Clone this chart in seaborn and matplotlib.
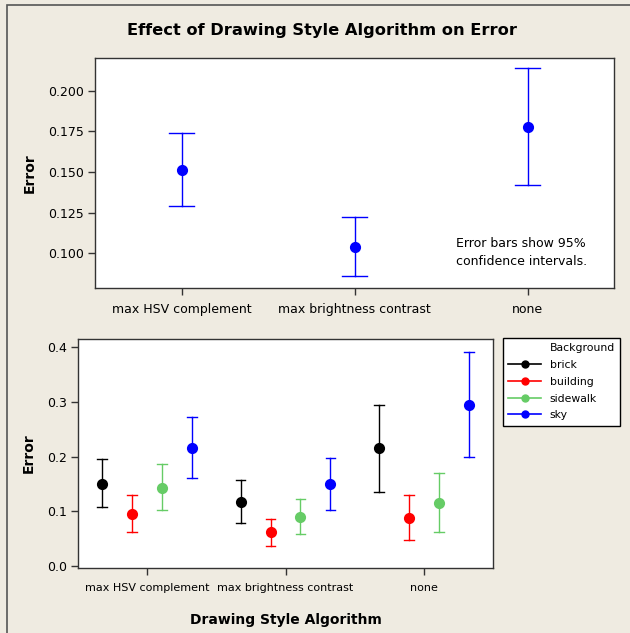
import matplotlib
matplotlib.use("Agg")
import matplotlib.pyplot as plt
from matplotlib.lines import Line2D
from matplotlib.patches import Rectangle
import seaborn as sns
import pandas as pd

# overall effect (mean, 95% CI)
algorithms = ["max HSV complement", "max brightness contrast", "none"]
overall_mean = [0.151, 0.104, 0.178]
overall_lo = [0.129, 0.086, 0.142]
overall_hi = [0.174, 0.122, 0.214]

# by background
backgrounds = ["brick", "building", "sidewalk", "sky"]
bg_colors = ["#000000", "#ff0000", "#66cc66", "#0000ff"]
# rows: algorithm, cols: background
bg_mean = [[0.150, 0.095, 0.143, 0.216],
           [0.116, 0.061, 0.090, 0.149],
           [0.215, 0.087, 0.115, 0.294]]
bg_lo = [[0.107, 0.062, 0.102, 0.161],
         [0.079, 0.037, 0.059, 0.102],
         [0.135, 0.047, 0.061, 0.200]]
bg_hi = [[0.196, 0.130, 0.186, 0.272],
         [0.157, 0.086, 0.123, 0.197],
         [0.295, 0.130, 0.169, 0.391]]

# each group as (lo, mean, hi): median = mean, min-max = CI
top_rows = []
for i, a in enumerate(algorithms):
    for v in (overall_lo[i], overall_mean[i], overall_hi[i]):
        top_rows.append({"alg": a, "err": v})
top_df = pd.DataFrame(top_rows)

bot_rows = []
for i, a in enumerate(algorithms):
    for j, b in enumerate(backgrounds):
        for v in (bg_lo[i][j], bg_mean[i][j], bg_hi[i][j]):
            bot_rows.append({"alg": a, "bg": b, "err": v})
bot_df = pd.DataFrame(bot_rows)

bg = "#efebe1"
plt.rcParams["font.family"] = ["DejaVu Sans"]
fig = plt.figure(figsize=(6.3, 6.33), dpi=100, facecolor=bg)
fig.patches.append(Rectangle((7 / 630, -0.1), 2, 1.1 - 5 / 633, transform=fig.transFigure,
                             fill=False, edgecolor="#555555", linewidth=1.2))

# ---- top panel
ax1 = fig.add_axes([95 / 630, 1 - 288 / 633, 519 / 630, 230 / 633])
sns.pointplot(data=top_df, x="alg", y="err", estimator="median", errorbar=("pi", 100),
              color="#0000ff", linestyle="none", markersize=6, capsize=0.15,
              err_kws={"linewidth": 1.0}, ax=ax1)
ax1.set_xlim(-0.5, 2.5)
ax1.set_ylim(0.0785, 0.2203)
ax1.set_yticks([0.100, 0.125, 0.150, 0.175, 0.200])
ax1.set_yticklabels(["0.100", "0.125", "0.150", "0.175", "0.200"])
ax1.set_xlabel("")
ax1.set_ylabel("Error", fontsize=10, fontweight="bold", labelpad=8)
ax1.text(0.695, 0.155, "Error bars show 95%\nconfidence intervals.", transform=ax1.transAxes,
         fontsize=9, ha="left", va="center", linespacing=1.45)

# ---- bottom panel
ax2 = fig.add_axes([78 / 630, 1 - 568 / 633, 415 / 630, 229 / 633])
sns.pointplot(data=bot_df, x="alg", y="err", hue="bg", hue_order=backgrounds,
              palette=bg_colors, estimator="median", errorbar=("pi", 100),
              dodge=0.65, linestyle="none", markersize=6, capsize=0.07,
              err_kws={"linewidth": 1.0}, legend=False, ax=ax2)
ax2.set_xlim(-0.5, 2.5)
ax2.set_ylim(-0.004, 0.415)
ax2.set_yticks([0.0, 0.1, 0.2, 0.3, 0.4])
ax2.set_yticklabels(["0.0", "0.1", "0.2", "0.3", "0.4"])
ax2.set_xlabel("Drawing Style Algorithm", fontsize=10, fontweight="bold", labelpad=14)
ax2.set_ylabel("Error", fontsize=10, fontweight="bold", labelpad=8)

for ax, fs in ((ax1, 9), (ax2, 8)):
    ax.set_facecolor("white")
    for s in ax.spines.values():
        s.set_color("#333333")
        s.set_linewidth(1.0)
    ax.tick_params(axis="both", direction="out", length=5, width=1, color="#333333",
                   labelsize=9, pad=3)
    ax.tick_params(axis="x", labelsize=fs, pad=6)

fig.text(0.511, 1 - 31 / 633, "Effect of Drawing Style Algorithm on Error",
         fontsize=11.7, fontweight="bold", ha="center", va="center")

handles = [Line2D([], [], linestyle="none")]
labels = ["Background"]
for b, c in zip(backgrounds, bg_colors):
    handles.append(Line2D([], [], color=c, marker="o", markersize=5, linewidth=1.2))
    labels.append(b)
leg = fig.legend(handles, labels, loc="upper left", bbox_to_anchor=(503 / 630, 1 - 338 / 633),
                 fontsize=7.8, frameon=True, fancybox=False, edgecolor="black",
                 facecolor="white", framealpha=1,
                 handlelength=3.0, handletextpad=0.8, labelspacing=0.62,
                 borderpad=0.5, borderaxespad=0)
leg.get_frame().set_linewidth(1.0)

fig.savefig("out.png", dpi=100, facecolor=bg)
